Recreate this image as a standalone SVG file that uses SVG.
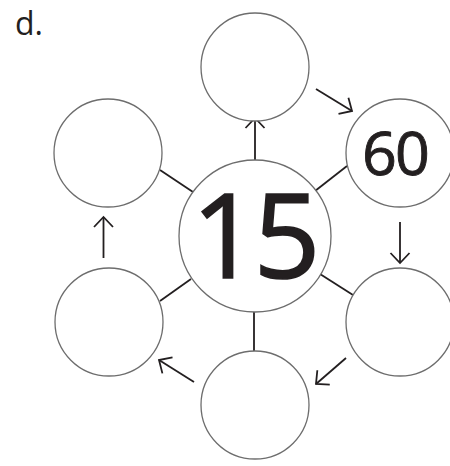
<svg xmlns="http://www.w3.org/2000/svg" width="450" height="466" viewBox="0 0 450 466">
<style>
.node{fill:#fff;stroke:#6d6d6d;stroke-width:1.3}
.ln{fill:none;stroke:#231f20;stroke-width:1.8}
.num{font-family:"Open Sans","Noto Sans",sans-serif;fill:#231f20;text-anchor:middle;font-weight:500;stroke:#231f20}
.lbl{font-family:"Open Sans","Noto Sans",sans-serif;fill:#231f20;font-size:32px}
</style>
<defs>
<marker id="ah" markerUnits="userSpaceOnUse" markerWidth="30" markerHeight="30" viewBox="-15 -15 30 30" refX="0" refY="0" orient="auto" overflow="visible">
<path d="M-10,-9.5 L0,0 L-10,9.5" fill="none" stroke="#231f20" stroke-width="1.8"/>
</marker>
</defs>
<rect width="450" height="466" fill="#fff"/>
<text class="lbl" x="15" y="35">d.</text>
<g id="connectors">
<line class="ln" x1="255" y1="160" x2="255" y2="118" marker-end="url(#ah)"/>
<line class="ln" x1="160" y1="170" x2="193" y2="192"/>
<line class="ln" x1="315" y1="191" x2="347" y2="166"/>
<line class="ln" x1="160" y1="301" x2="191" y2="279"/>
<line class="ln" x1="320" y1="274" x2="353" y2="295"/>
<line class="ln" x1="254" y1="312" x2="254" y2="351"/>
<line class="ln" x1="316" y1="89" x2="352" y2="111" marker-end="url(#ah)"/>
<line class="ln" x1="400" y1="222" x2="400" y2="263" marker-end="url(#ah)"/>
<line class="ln" x1="346" y1="358" x2="316" y2="384" marker-end="url(#ah)"/>
<line class="ln" x1="194" y1="382" x2="159" y2="360" marker-end="url(#ah)"/>
<line class="ln" x1="103.5" y1="258" x2="103.5" y2="217" marker-end="url(#ah)"/>
</g>
<g id="node-center"><circle class="node" cx="255" cy="236" r="76"/><text class="num" x="253.5" y="277.5" font-size="117" letter-spacing="-5" stroke-width="1.6">15</text></g>
<g id="node-top"><circle class="node" cx="255" cy="67" r="54"/></g>
<g id="node-upper-right"><circle class="node" cx="400" cy="153" r="54"/><text class="num" x="395" y="174.5" font-size="61" letter-spacing="-2" stroke-width="0.9">60</text></g>
<g id="node-lower-right"><circle class="node" cx="400" cy="322" r="54"/></g>
<g id="node-bottom"><circle class="node" cx="255" cy="405" r="54"/></g>
<g id="node-lower-left"><circle class="node" cx="109" cy="322" r="54"/></g>
<g id="node-upper-left"><circle class="node" cx="108" cy="153" r="54"/></g>
</svg>
